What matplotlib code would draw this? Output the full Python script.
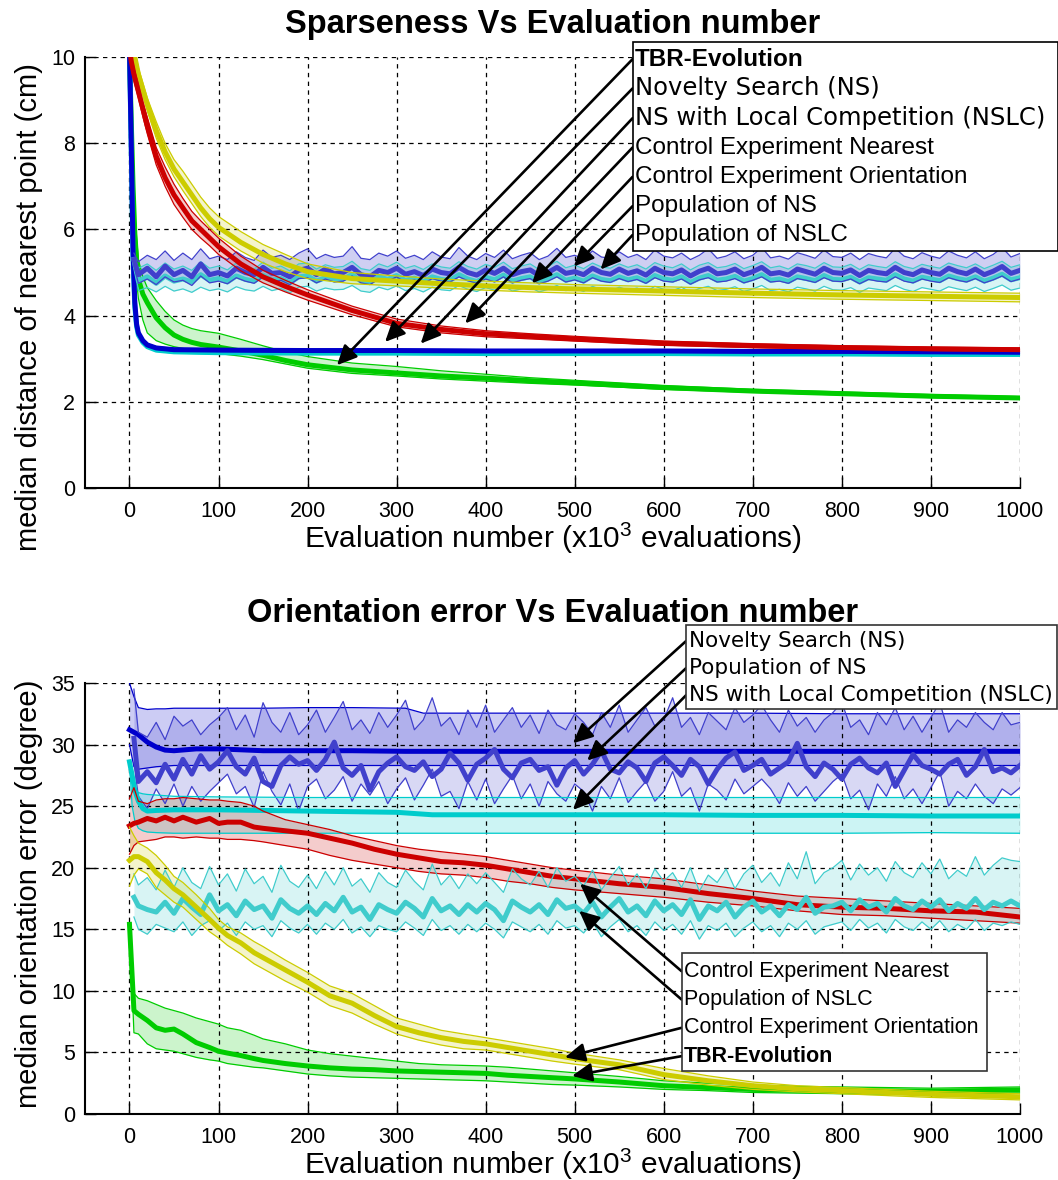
import matplotlib
matplotlib.use("Agg")
import matplotlib.pyplot as plt
from matplotlib.patches import Rectangle

plt.rcParams["font.family"] = "Liberation Sans"
plt.rcParams["mathtext.fontset"] = "custom"
plt.rcParams["mathtext.rm"] = "Liberation Sans"

GREEN = "#00cc00"
BLUE = "#0000cc"
CYAN = "#00cccc"
RED = "#cc0000"
YELLOW = "#cccc00"
POP_BLUE = "#4040cc"
POP_CYAN = "#40cccc"

x_ticks = [0, 100, 200, 300, 400, 500, 600, 700, 800, 900, 1000]

# ---------------- top plot data (sparseness, cm) ----------------
tx = [0, 2, 5, 10, 15, 20, 30, 40, 50, 60, 70, 80, 90, 100, 125, 150, 175, 200,
      250, 300, 350, 400, 450, 500, 600, 700, 800, 900, 1000]
red_t = [10.2, 9.9, 9.6, 9.2, 8.8, 8.4, 7.7, 7.2, 6.8, 6.5, 6.2, 6.0, 5.8, 5.6, 5.2, 4.9, 4.68, 4.48,
         4.12, 3.82, 3.68, 3.58, 3.52, 3.46, 3.36, 3.3, 3.26, 3.23, 3.21]
red_t_hi = [10.3, 10.05, 9.75, 9.35, 8.95, 8.6, 7.9, 7.45, 7.05, 6.72, 6.42, 6.2, 6.0, 5.8, 5.38, 5.05, 4.82, 4.6,
            4.22, 3.92, 3.76, 3.65, 3.58, 3.52, 3.41, 3.35, 3.3, 3.27, 3.25]
red_t_lo = [10.0, 9.75, 9.45, 9.05, 8.62, 8.22, 7.5, 7.0, 6.58, 6.28, 6.0, 5.8, 5.62, 5.42, 5.04, 4.76, 4.55, 4.36,
            4.02, 3.74, 3.6, 3.51, 3.46, 3.41, 3.31, 3.26, 3.22, 3.19, 3.17]
yel_t = [10.6, 10.4, 10.1, 9.6, 9.25, 8.9, 8.3, 7.8, 7.4, 7.1, 6.8, 6.5, 6.25, 6.05, 5.7, 5.42, 5.2, 5.02,
         4.86, 4.8, 4.74, 4.69, 4.65, 4.62, 4.57, 4.52, 4.48, 4.45, 4.42]
yel_t_hi = [10.7, 10.5, 10.25, 9.75, 9.4, 9.05, 8.5, 8.0, 7.62, 7.35, 7.05, 6.75, 6.5, 6.3, 5.95, 5.65, 5.42, 5.2,
            5.0, 4.92, 4.85, 4.8, 4.76, 4.72, 4.67, 4.62, 4.58, 4.55, 4.52]
yel_t_lo = [10.5, 10.3, 9.95, 9.45, 9.1, 8.75, 8.12, 7.62, 7.22, 6.9, 6.6, 6.3, 6.05, 5.85, 5.5, 5.22, 5.02, 4.86,
            4.74, 4.69, 4.64, 4.59, 4.55, 4.52, 4.47, 4.42, 4.38, 4.35, 4.32]

nsx = [0, 2, 4, 6, 8, 10, 15, 20, 30, 50, 100, 200, 300, 400, 500, 600, 700, 800, 900, 1000]
ns_t = [10.2, 8.0, 5.5, 4.3, 3.8, 3.6, 3.42, 3.32, 3.25, 3.21, 3.2, 3.19, 3.19, 3.18, 3.18, 3.18, 3.17, 3.17, 3.16, 3.15]
ns_t_hi = [10.2, 8.1, 5.6, 4.4, 3.85, 3.64, 3.45, 3.35, 3.28, 3.24, 3.23, 3.22, 3.22, 3.21, 3.21, 3.21, 3.2, 3.2, 3.19, 3.18]
ns_t_lo = [10.2, 7.9, 5.4, 4.2, 3.75, 3.56, 3.39, 3.29, 3.22, 3.18, 3.17, 3.16, 3.16, 3.15, 3.15, 3.15, 3.14, 3.14, 3.13, 3.12]
nslc_t = [10.2, 7.8, 5.3, 4.2, 3.75, 3.55, 3.38, 3.28, 3.2, 3.16, 3.14, 3.13, 3.13, 3.12, 3.12, 3.12, 3.11, 3.11, 3.1, 3.1]
nslc_t_hi = [10.2, 7.9, 5.4, 4.25, 3.78, 3.58, 3.41, 3.31, 3.23, 3.19, 3.17, 3.16, 3.16, 3.15, 3.15, 3.15, 3.14, 3.14, 3.13, 3.13]
nslc_t_lo = [10.2, 7.7, 5.2, 4.15, 3.72, 3.52, 3.35, 3.25, 3.17, 3.13, 3.11, 3.1, 3.1, 3.09, 3.09, 3.09, 3.08, 3.08, 3.07, 3.07]

gx = [0, 2, 4, 6, 8, 10, 15, 20, 30, 40, 50, 60, 70, 80, 90, 100, 125, 150, 175, 200,
      250, 300, 350, 400, 450, 500, 600, 700, 800, 900, 1000]
tbr_t = [10.1, 8.5, 7.0, 5.9, 5.3, 4.85, 4.5, 4.3, 3.95, 3.72, 3.55, 3.45, 3.38, 3.33, 3.3, 3.27, 3.18, 3.08, 2.96, 2.86,
         2.74, 2.67, 2.6, 2.55, 2.49, 2.44, 2.33, 2.25, 2.19, 2.13, 2.09]
tbr_t_hi = [10.2, 9.0, 7.6, 6.4, 5.8, 5.3, 4.9, 4.65, 4.35, 4.1, 3.9, 3.78, 3.7, 3.65, 3.62, 3.59, 3.45, 3.3, 3.16, 3.05,
            2.9, 2.82, 2.72, 2.64, 2.56, 2.5, 2.38, 2.29, 2.23, 2.17, 2.12]
tbr_t_lo = [10.0, 8.0, 6.3, 5.3, 4.8, 4.4, 3.9, 3.6, 3.42, 3.34, 3.28, 3.24, 3.2, 3.17, 3.14, 3.12, 3.06, 2.98, 2.88, 2.78,
            2.66, 2.6, 2.53, 2.48, 2.43, 2.39, 2.29, 2.22, 2.16, 2.1, 2.06]

# noisy population series are sampled every 10 evaluations (x10^3)
px = [5] + list(range(10, 1001, 10))
pns_t = [5.30, 4.95, 5.10, 4.90, 5.15, 4.95, 5.05, 4.90, 5.20, 4.95,
         5.00, 4.92, 5.10, 5.00, 4.95, 5.12, 4.98, 5.00, 4.90, 5.05,
         5.10, 4.95, 5.08, 4.97, 5.00, 5.12, 4.95, 4.90, 5.05, 5.00,
         5.10, 4.96, 5.02, 4.93, 5.08, 5.00, 4.97, 5.12, 5.00, 4.94,
         5.06, 4.98, 5.10, 4.95, 5.02, 5.06, 4.93, 5.00, 5.12, 4.98,
         5.02, 4.95, 5.10, 5.00, 4.96, 5.08, 4.98, 5.04, 4.94, 5.10,
         5.00, 4.97, 5.06, 4.92, 5.03, 5.10, 4.97, 5.00, 5.08, 4.95,
         5.02, 5.12, 4.97, 5.00, 4.94, 5.08, 5.02, 4.96, 5.10, 5.00,
         4.98, 5.06, 4.93, 5.05, 5.00, 4.97, 5.12, 5.00, 4.95, 5.06,
         5.00, 4.96, 5.10, 5.02, 4.97, 5.08, 4.95, 5.03, 5.14, 4.98,
         5.05]
pns_t_hi = [5.45, 5.25, 5.40, 5.30, 5.50, 5.28, 5.45, 5.30, 5.55, 5.32,
            5.38, 5.30, 5.48, 5.35, 5.28, 5.52, 5.35, 5.40, 5.30, 5.45,
            5.55, 5.32, 5.42, 5.35, 5.38, 5.60, 5.33, 5.30, 5.45, 5.38,
            5.50, 5.33, 5.40, 5.30, 5.48, 5.36, 5.32, 5.58, 5.38, 5.30,
            5.44, 5.35, 5.52, 5.32, 5.40, 5.46, 5.30, 5.38, 5.56, 5.35,
            5.40, 5.32, 5.50, 5.36, 5.33, 5.48, 5.35, 5.42, 5.30, 5.52,
            5.38, 5.34, 5.45, 5.30, 5.40, 5.55, 5.33, 5.38, 5.48, 5.32,
            5.40, 5.58, 5.34, 5.38, 5.31, 5.46, 5.40, 5.33, 5.52, 5.37,
            5.35, 5.45, 5.30, 5.44, 5.38, 5.34, 5.56, 5.38, 5.32, 5.46,
            5.38, 5.33, 5.50, 5.40, 5.34, 5.48, 5.32, 5.42, 5.58, 5.36,
            5.44]
pns_t_lo = [5.15, 4.75, 4.85, 4.72, 4.90, 4.78, 4.82, 4.70, 4.92, 4.76,
            4.80, 4.74, 4.88, 4.80, 4.75, 4.90, 4.78, 4.82, 4.72, 4.86,
            4.88, 4.76, 4.85, 4.78, 4.80, 4.92, 4.76, 4.72, 4.85, 4.80,
            4.90, 4.77, 4.83, 4.74, 4.86, 4.80, 4.78, 4.90, 4.81, 4.75,
            4.85, 4.78, 4.90, 4.76, 4.82, 4.86, 4.74, 4.80, 4.90, 4.78,
            4.83, 4.76, 4.88, 4.80, 4.77, 4.86, 4.79, 4.84, 4.75, 4.88,
            4.80, 4.78, 4.85, 4.73, 4.83, 4.88, 4.78, 4.80, 4.86, 4.76,
            4.82, 4.90, 4.78, 4.80, 4.75, 4.86, 4.82, 4.77, 4.88, 4.80,
            4.79, 4.85, 4.74, 4.84, 4.80, 4.78, 4.90, 4.80, 4.76, 4.85,
            4.80, 4.77, 4.88, 4.82, 4.78, 4.86, 4.76, 4.83, 4.92, 4.79,
            4.85]
pnslc_t = [5.30, 4.80, 4.90, 4.75, 4.92, 4.80, 4.85, 4.78, 4.95, 4.82,
           4.86, 4.78, 4.92, 4.84, 4.80, 4.94, 4.82, 4.86, 4.76, 4.90,
           4.92, 4.80, 4.88, 4.83, 4.85, 4.95, 4.80, 4.77, 4.90, 4.84,
           4.93, 4.81, 4.87, 4.78, 4.90, 4.84, 4.82, 4.95, 4.85, 4.79,
           4.89, 4.83, 4.94, 4.80, 4.86, 4.90, 4.78, 4.85, 4.95, 4.82,
           4.87, 4.80, 4.92, 4.84, 4.81, 4.90, 4.83, 4.88, 4.79, 4.93,
           4.85, 4.82, 4.90, 4.77, 4.87, 4.93, 4.82, 4.85, 4.91, 4.80,
           4.86, 4.95, 4.82, 4.85, 4.79, 4.90, 4.86, 4.81, 4.93, 4.84,
           4.83, 4.89, 4.78, 4.88, 4.85, 4.82, 4.95, 4.85, 4.80, 4.89,
           4.85, 4.81, 4.92, 4.86, 4.82, 4.90, 4.80, 4.87, 4.96, 4.83,
           4.88]
pnslc_t_hi = [5.35, 5.10, 5.20, 5.05, 5.22, 5.08, 5.15, 5.05, 5.25, 5.10,
              5.15, 5.06, 5.22, 5.12, 5.08, 5.24, 5.10, 5.15, 5.04, 5.20,
              5.22, 5.08, 5.18, 5.12, 5.14, 5.26, 5.09, 5.05, 5.20, 5.13,
              5.24, 5.10, 5.16, 5.07, 5.20, 5.13, 5.10, 5.25, 5.14, 5.08,
              5.19, 5.12, 5.24, 5.09, 5.15, 5.20, 5.07, 5.14, 5.26, 5.11,
              5.17, 5.09, 5.22, 5.13, 5.10, 5.20, 5.12, 5.18, 5.08, 5.23,
              5.15, 5.11, 5.20, 5.06, 5.17, 5.23, 5.11, 5.14, 5.21, 5.09,
              5.16, 5.25, 5.11, 5.15, 5.08, 5.20, 5.16, 5.10, 5.23, 5.13,
              5.12, 5.19, 5.07, 5.18, 5.14, 5.11, 5.25, 5.14, 5.09, 5.19,
              5.14, 5.10, 5.22, 5.16, 5.11, 5.20, 5.09, 5.17, 5.26, 5.12,
              5.18]
pnslc_t_lo = [5.20, 4.58, 4.65, 4.55, 4.68, 4.57, 4.62, 4.54, 4.66, 4.58,
              4.62, 4.55, 4.67, 4.60, 4.57, 4.68, 4.58, 4.63, 4.53, 4.66,
              4.68, 4.57, 4.64, 4.60, 4.61, 4.70, 4.57, 4.54, 4.66, 4.60,
              4.69, 4.58, 4.63, 4.55, 4.66, 4.60, 4.58, 4.70, 4.61, 4.56,
              4.65, 4.59, 4.69, 4.57, 4.62, 4.66, 4.55, 4.61, 4.70, 4.58,
              4.63, 4.56, 4.68, 4.60, 4.57, 4.66, 4.59, 4.64, 4.55, 4.68,
              4.61, 4.58, 4.66, 4.54, 4.63, 4.68, 4.58, 4.61, 4.67, 4.56,
              4.62, 4.70, 4.58, 4.61, 4.55, 4.66, 4.62, 4.57, 4.68, 4.60,
              4.59, 4.65, 4.54, 4.64, 4.61, 4.58, 4.70, 4.61, 4.56, 4.65,
              4.61, 4.57, 4.67, 4.62, 4.58, 4.66, 4.56, 4.63, 4.71, 4.59,
              4.64]

# ---------------- bottom plot data (orientation error, degree) ----------------
bnx = [0, 5, 10, 20, 30, 40, 50, 75, 100, 150, 200, 250, 310, 330, 400, 500, 600, 700, 800, 900, 1000]
ns_b = [31.2, 31.0, 30.8, 30.2, 29.8, 29.55, 29.5, 29.65, 29.65, 29.5, 29.5, 29.5, 29.45, 29.45,
        29.45, 29.45, 29.45, 29.45, 29.45, 29.45, 29.45]
ns_b_hi = [35.0, 33.9, 33.0, 32.85, 32.9, 32.9, 32.95, 32.95, 32.95, 32.95, 33.0, 33.0, 32.95, 32.55,
           32.55, 32.55, 32.55, 32.55, 32.5, 32.5, 32.5]
ns_b_lo = [30.0, 28.2, 28.0, 28.1, 28.2, 28.25, 28.3, 28.3, 28.3, 28.3, 28.3, 28.3, 28.3, 28.3,
           28.3, 28.3, 28.3, 28.3, 28.3, 28.3, 28.3]

bcx = [0, 3, 6, 10, 15, 20, 30, 50, 100, 200, 300, 340, 400, 500, 600, 700, 800, 900, 1000]
nslc_b = [28.6, 27.5, 26.3, 25.4, 24.8, 24.6, 24.65, 24.7, 24.7, 24.6, 24.5, 24.3, 24.3, 24.3, 24.3,
          24.25, 24.25, 24.2, 24.2]
nslc_b_hi = [28.6, 27.0, 26.4, 26.1, 26.0, 25.95, 25.9, 25.8, 25.75, 25.7, 25.7, 25.7, 25.7, 25.7, 25.7,
             25.7, 25.7, 25.7, 25.7]
nslc_b_lo = [28.6, 25.0, 23.8, 23.2, 23.0, 22.9, 22.85, 22.8, 22.8, 22.8, 22.8, 22.8, 22.8, 22.8, 22.8,
             22.8, 22.8, 22.85, 22.8]

bx = [0, 5, 10, 20, 30, 40, 50, 60, 75, 90, 100, 110, 125, 140, 150, 175, 200, 225, 250, 275,
      300, 325, 350, 375, 400, 425, 450, 475, 500, 550, 600, 650, 700, 750, 800, 850, 900, 950, 1000]
red_b = [23.4, 23.6, 23.7, 24.0, 23.8, 24.1, 23.8, 24.1, 23.7, 24.0, 23.6, 23.7, 23.7, 23.3, 23.2, 23.0, 22.8, 22.4, 22.0, 21.5,
         21.1, 20.8, 20.5, 20.4, 20.2, 19.9, 19.6, 19.3, 19.1, 18.7, 18.4, 17.9, 17.5, 17.0, 16.8, 16.7, 16.5, 16.4, 16.0]
red_b_hi = [25.6, 26.5, 25.4, 25.2, 25.5, 25.6, 25.6, 25.7, 25.6, 25.5, 25.5, 25.4, 25.3, 25.0, 24.6, 23.9, 23.5, 23.1, 22.6, 22.2,
            21.8, 21.5, 21.3, 21.1, 20.9, 20.6, 20.3, 20.0, 19.8, 19.4, 19.1, 18.6, 18.1, 17.7, 17.5, 17.3, 17.1, 16.9, 16.7]
red_b_lo = [21.1, 21.8, 22.1, 22.2, 22.3, 22.5, 22.5, 22.4, 22.5, 22.4, 22.4, 22.3, 22.3, 22.2, 22.1, 21.8, 21.5, 21.0, 20.6, 20.3,
            20.0, 19.7, 19.5, 19.4, 19.2, 18.9, 18.7, 18.4, 18.2, 17.9, 17.6, 17.2, 16.9, 16.5, 16.2, 16.1, 15.9, 15.7, 15.5]
yel_b = [20.6, 20.9, 20.9, 20.5, 19.6, 19.0, 18.3, 17.8, 16.8, 15.8, 15.1, 14.5, 13.9, 13.1, 12.7, 11.7, 10.7, 9.6, 9.0, 8.0,
         7.1, 6.6, 6.2, 5.9, 5.7, 5.4, 5.1, 4.8, 4.5, 4.0, 3.2, 2.7, 2.3, 2.05, 1.9, 1.75, 1.6, 1.5, 1.4]
yel_b_hi = [23.3, 22.6, 22.0, 21.6, 21.0, 20.2, 19.3, 18.8, 17.8, 16.7, 15.8, 15.2, 14.7, 14.0, 13.6, 12.5, 11.5, 10.4, 9.8, 8.8,
            7.8, 7.3, 6.8, 6.5, 6.2, 5.9, 5.6, 5.3, 4.95, 4.4, 3.7, 3.1, 2.6, 2.3, 2.15, 2.0, 1.85, 1.75, 1.65]
yel_b_lo = [18.5, 19.4, 19.9, 19.5, 18.4, 17.8, 17.2, 16.8, 15.8, 14.8, 14.3, 13.7, 13.0, 12.2, 11.8, 10.8, 9.9, 8.8, 8.2, 7.3,
            6.5, 6.0, 5.6, 5.3, 5.2, 4.9, 4.6, 4.3, 4.05, 3.6, 2.8, 2.35, 2.0, 1.8, 1.65, 1.5, 1.35, 1.25, 1.15]
tbr_b = [15.4, 8.4, 8.1, 7.6, 7.0, 6.8, 6.9, 6.5, 5.8, 5.4, 5.1, 4.95, 4.75, 4.5, 4.35, 4.1, 3.9, 3.75, 3.65, 3.6,
         3.5, 3.45, 3.4, 3.35, 3.3, 3.15, 3.05, 2.95, 2.85, 2.6, 2.3, 2.15, 2.0, 1.95, 1.9, 1.88, 1.85, 1.9, 1.95]
tbr_b_hi = [15.4, 9.8, 9.4, 9.2, 8.9, 8.6, 8.4, 8.2, 7.8, 7.5, 7.3, 7.0, 6.8, 6.4, 6.1, 5.7, 5.2, 4.9, 4.7, 4.5,
            4.3, 4.1, 4.0, 3.95, 3.9, 3.8, 3.65, 3.5, 3.35, 3.05, 2.7, 2.5, 2.35, 2.25, 2.2, 2.15, 2.1, 2.15, 2.2]
tbr_b_lo = [15.4, 6.6, 6.5, 5.7, 5.3, 5.2, 5.1, 4.9, 4.6, 4.4, 4.3, 4.1, 3.95, 3.8, 3.75, 3.5, 3.25, 3.1, 3.0, 2.95,
            2.9, 2.85, 2.8, 2.75, 2.7, 2.6, 2.5, 2.4, 2.35, 2.2, 2.0, 1.9, 1.75, 1.7, 1.65, 1.62, 1.6, 1.65, 1.7]

pns_b = [30.5, 27.0, 27.8, 26.9, 28.4, 27.2, 28.8, 27.6, 29.1, 28.0,
         28.6, 29.5, 28.2, 27.6, 28.9, 27.0, 26.6, 28.3, 29.0, 28.4,
         28.7, 27.9, 28.8, 30.2, 28.1, 27.5, 28.3, 26.3, 27.8, 28.5,
         29.0, 28.2, 27.9, 28.6, 27.4, 28.0, 29.3, 28.5, 27.1, 28.4,
         28.9, 29.6, 28.0, 27.3, 28.5, 28.8, 27.9, 28.2, 26.7, 28.1,
         28.7, 27.6, 28.4, 29.5, 28.0, 27.7, 28.6, 28.1, 27.0, 28.5,
         29.0, 28.3, 27.5, 28.8, 28.2, 26.8, 28.0, 28.9, 29.4, 27.9,
         28.3, 28.8, 27.6, 28.1, 28.6, 30.1, 28.2, 27.4, 28.5, 28.0,
         27.2, 28.4, 28.9, 28.1, 27.7, 28.5, 26.6, 27.9, 29.2, 28.3,
         28.0, 27.6, 28.4, 28.8, 27.5, 28.2, 29.6, 27.8, 28.1, 27.7,
         28.3]
pns_b_hi = [34.5, 31.0, 30.6, 31.8, 30.4, 32.3, 31.5, 32.0, 30.8, 31.6,
            32.2, 33.0, 31.2, 32.4, 30.6, 33.4, 31.8, 31.0, 32.6, 30.8,
            31.6, 32.8, 31.0, 32.2, 33.5, 31.2, 32.0, 30.9, 32.6, 31.4,
            32.4, 33.6, 31.2, 32.0, 33.8, 31.5, 32.2, 30.8, 32.8, 31.4,
            33.2, 31.0, 32.0, 33.0, 31.4, 32.4, 30.9, 32.8, 31.6, 31.2,
            32.5, 31.8, 30.8, 32.6, 31.4, 33.2, 31.0, 32.0, 33.0, 31.5,
            32.0, 33.8, 31.4, 32.2, 30.8, 32.6, 31.9, 31.2, 33.0, 31.8,
            32.4, 33.2, 32.0, 31.0, 32.8, 31.5, 32.2, 31.0, 32.0, 32.6,
            33.4, 31.4, 32.0, 30.8, 32.6, 31.6, 33.0, 31.2, 32.3, 31.0,
            32.2, 33.4, 31.0, 32.0, 31.4, 32.6, 31.8, 31.2, 32.6, 31.6,
            31.8]
pns_b_lo = [28.5, 25.8, 24.8, 26.4, 25.2, 26.8, 25.0, 26.6, 25.4, 26.2,
            26.9, 27.6, 26.0, 26.6, 24.9, 27.8, 26.2, 25.1, 26.8, 24.6,
            26.6, 27.2, 25.6, 26.3, 27.4, 25.4, 26.8, 25.9, 27.0, 25.2,
            26.4, 27.3, 25.5, 26.7, 28.0, 25.8, 26.2, 24.8, 27.0, 25.5,
            27.2, 25.2, 26.4, 27.5, 25.6, 26.8, 25.0, 27.0, 26.0, 25.4,
            26.8, 26.2, 24.6, 26.6, 25.6, 27.3, 25.3, 26.2, 27.0, 25.4,
            26.2, 27.8, 25.8, 26.5, 24.6, 26.8, 26.3, 25.5, 27.2, 26.0,
            26.6, 27.2, 26.4, 25.2, 26.9, 25.8, 26.6, 25.4, 26.2, 27.0,
            27.6, 25.6, 26.3, 24.7, 26.8, 25.8, 27.4, 25.6, 26.4, 25.2,
            26.5, 27.8, 25.0, 26.2, 25.6, 26.8, 25.8, 25.2, 26.4, 25.9,
            26.5]
pnslc_b = [17.6, 16.9, 16.6, 16.4, 17.2, 16.3, 17.5, 16.8, 16.2, 17.8,
           16.5, 17.0, 16.1, 17.3, 16.6, 16.9, 15.9, 17.4, 16.7, 16.3,
           16.9, 16.2, 17.1, 16.5, 17.6, 16.4, 16.8, 15.8, 17.0, 16.6,
           16.3, 17.2, 16.7, 16.0, 17.5, 16.5, 16.9, 16.2, 17.0, 16.4,
           17.1, 16.6, 15.7, 17.3, 16.8, 16.4, 17.0, 16.2, 17.4, 16.7,
           16.9, 16.3, 17.2, 16.0, 16.8, 17.5, 16.4, 16.9, 16.1, 17.3,
           16.5, 17.0, 16.2, 17.4, 15.8, 16.9, 16.5, 17.2, 16.0, 16.8,
           17.3, 16.4, 16.9, 16.1, 17.0, 16.6, 17.6, 16.3, 16.8, 16.9,
           17.2, 16.5, 17.4, 16.8, 17.1, 16.4, 17.5, 16.9, 16.6, 17.3,
           16.8, 17.4, 16.5, 17.1, 16.7, 17.5, 16.6, 17.2, 16.9, 17.3,
           16.9]
pnslc_b_hi = [19.5, 18.6, 19.2, 18.2, 19.8, 18.4, 20.0, 18.8, 18.3, 20.1,
              18.6, 19.5, 18.1, 19.9, 18.7, 19.3, 18.0, 20.2, 18.9, 18.4,
              19.4, 18.3, 19.7, 18.6, 20.0, 18.5, 19.1, 18.0, 19.6, 18.8,
              18.4, 19.8, 18.9, 18.2, 20.3, 18.6, 19.4, 18.3, 19.5, 18.7,
              19.6, 18.8, 18.0, 19.9, 19.1, 18.6, 19.7, 18.4, 20.0, 18.9,
              19.3, 18.5, 19.8, 18.2, 19.2, 20.1, 18.6, 19.5, 18.3, 19.9,
              18.9, 19.6, 18.4, 20.0, 18.1, 19.4, 18.8, 19.9, 18.3, 19.5,
              20.2, 18.8, 19.6, 18.5, 20.4, 19.1, 21.3, 18.7, 19.6, 20.0,
              20.6, 19.0, 20.3, 19.4, 20.0, 18.9, 20.5, 19.6, 19.2, 20.4,
              19.5, 20.7, 19.1, 19.8, 19.3, 20.9, 19.4, 20.2, 20.8, 20.6,
              20.5]
pnslc_b_lo = [16.0, 15.0, 14.6, 15.4, 15.1, 14.8, 15.6, 14.5, 15.3, 15.7,
              14.9, 15.5, 14.5, 15.6, 15.0, 15.3, 14.4, 15.7, 15.1, 14.7,
              15.4, 14.6, 15.5, 15.0, 15.8, 14.7, 15.2, 14.4, 15.3, 15.0,
              14.8, 15.6, 15.1, 14.5, 15.8, 14.9, 15.3, 14.6, 15.4, 14.8,
              15.5, 15.0, 14.3, 15.6, 15.2, 14.8, 15.4, 14.6, 15.7, 15.1,
              15.3, 14.7, 15.6, 14.4, 15.2, 15.8, 14.8, 15.3, 14.5, 15.6,
              14.9, 15.4, 14.6, 15.7, 14.2, 15.3, 14.9, 15.5, 14.4, 15.1,
              15.6, 14.8, 15.3, 14.4, 15.5, 15.0, 15.7, 14.6, 15.2, 15.4,
              15.6, 14.9, 15.8, 15.1, 15.5, 14.7, 15.8, 15.2, 14.9, 15.6,
              15.0, 15.7, 14.8, 15.4, 15.0, 15.8, 14.9, 15.5, 15.3, 15.6,
              15.4]

# ---------------- annotation texts ----------------
top_labels = ["TBR-Evolution", "Novelty Search (NS)", "NS with Local Competition (NSLC)",
              "Control Experiment Nearest", "Control Experiment Orientation",
              "Population of NS", "Population of NSLC"]
top_fonts = [("Liberation Sans", "bold"), ("DejaVu Sans", "normal"), ("DejaVu Sans", "normal"),
             ("Liberation Sans", "normal"), ("Liberation Sans", "normal"),
             ("Liberation Sans", "normal"), ("Liberation Sans", "normal")]
top_line_y = [9.95, 9.27, 8.58, 7.9, 7.22, 6.54, 5.87]
top_targets = [(233, 2.85), (287, 3.39), (327, 3.35), (377, 3.82), (452, 4.75), (499, 5.14), (529, 5.07)]

bot_labels_a = ["Novelty Search (NS)", "Population of NS", "NS with Local Competition (NSLC)"]
bot_fonts_a = [("DejaVu Sans", "normal"), ("DejaVu Sans", "normal"), ("DejaVu Sans", "normal")]
bot_line_y_a = [38.4, 36.2, 34.0]
bot_targets_a = [(498, 30.1), (514, 28.7), (498, 24.7)]

bot_labels_b = ["Control Experiment Nearest", "Population of NSLC",
                "Control Experiment Orientation", "TBR-Evolution"]
bot_fonts_b = [("Liberation Sans", "normal"), ("Liberation Sans", "normal"),
               ("Liberation Sans", "normal"), ("Liberation Sans", "bold")]
bot_line_y_b = [11.6, 9.3, 7.0, 4.7]
bot_targets_b = [(506, 18.7), (505, 16.5), (489, 4.6), (497, 3.1)]


def series(ax, x, med, lo, hi, color, alpha=0.2):
    ax.fill_between(x, lo, hi, color=color, alpha=alpha, lw=0)
    ax.plot(x, lo, color=color, lw=0.9)
    ax.plot(x, hi, color=color, lw=0.9)
    ax.plot(x, med, color=color, lw=3.6, solid_joinstyle="round")


def label_box(ax, rect, labels, fonts, line_y, targets, size, edge="k"):
    x0, y0, w, h = rect
    ax.add_patch(Rectangle((x0, y0), w, h, fc="white", ec=edge, lw=1.2,
                           clip_on=False, zorder=6))
    for txt, (fam, wt), y, tgt in zip(labels, fonts, line_y, targets):
        ax.text(x0 + 3, y, txt, family=fam, weight=wt, fontsize=size,
                va="center", ha="left", zorder=7, clip_on=False)
        ax.annotate("", xy=tgt, xytext=(x0, y), zorder=5, annotation_clip=False,
                    arrowprops=dict(arrowstyle="-|>,head_length=0.6,head_width=0.28",
                                    mutation_scale=20, color="k", lw=1.9,
                                    shrinkA=0, shrinkB=0))


def style(ax, ymax, yticks, title, ylabel, title_pad, ylabel_pos):
    ax.set_xlim(-50, 1000)
    ax.set_ylim(0, ymax)
    ax.set_xticks(x_ticks)
    ax.set_yticks(yticks)
    ax.grid(True, color="k", linestyle=(0, (3.5, 3.5)), linewidth=0.9)
    ax.spines["top"].set_visible(False)
    ax.spines["right"].set_visible(False)
    for s in ("left", "bottom"):
        ax.spines[s].set_linewidth(1.5)
    ax.tick_params(direction="in", length=8, width=1, labelsize=15.5)
    ax.tick_params(axis="x", pad=9)
    ax.tick_params(axis="y", pad=7)
    ax.set_title(title, fontsize=23.5, fontweight="bold", pad=title_pad)
    ax.set_xlabel("Evaluation number (x10$^{3}$ evaluations)", fontsize=21.5, labelpad=-1)
    ax.set_ylabel(ylabel, fontsize=21)
    ax.yaxis.set_label_coords(-0.045, ylabel_pos)


fig = plt.figure(figsize=(10.58, 11.8), dpi=100)
ax1 = fig.add_axes([0.0803, 0.5864, 0.8837, 0.3653])
ax2 = fig.add_axes([0.0803, 0.0559, 0.8837, 0.3653])

# top
series(ax1, gx, tbr_t, tbr_t_lo, tbr_t_hi, GREEN)
series(ax1, nsx, nslc_t, nslc_t_lo, nslc_t_hi, CYAN)
series(ax1, nsx, ns_t, ns_t_lo, ns_t_hi, BLUE)
series(ax1, px, pnslc_t, pnslc_t_lo, pnslc_t_hi, POP_CYAN)
series(ax1, px, pns_t, pns_t_lo, pns_t_hi, POP_BLUE, alpha=0.25)
series(ax1, tx, yel_t, yel_t_lo, yel_t_hi, YELLOW)
series(ax1, tx, red_t, red_t_lo, red_t_hi, RED)
style(ax1, 10, [0, 2, 4, 6, 8, 10], "Sparseness Vs Evaluation number",
      "median distance of nearest point (cm)", 17, 0.42)
label_box(ax1, (565, 5.5, 478, 4.85), top_labels, top_fonts, top_line_y, top_targets, 17.5)

# bottom
series(ax2, bnx, ns_b, ns_b_lo, ns_b_hi, BLUE)
series(ax2, px, pns_b, pns_b_lo, pns_b_hi, POP_BLUE, alpha=0.2)
series(ax2, bcx, nslc_b, nslc_b_lo, nslc_b_hi, CYAN)
series(ax2, bx, red_b, red_b_lo, red_b_hi, RED)
series(ax2, px, pnslc_b, pnslc_b_lo, pnslc_b_hi, POP_CYAN)
series(ax2, bx, tbr_b, tbr_b_lo, tbr_b_hi, GREEN)
series(ax2, bx, yel_b, yel_b_lo, yel_b_hi, YELLOW)
style(ax2, 35, [0, 5, 10, 15, 20, 25, 30, 35], "Orientation error Vs Evaluation number",
      "median orientation error (degree)", 44, 0.51)
label_box(ax2, (625, 32.9, 417, 6.8), bot_labels_a, bot_fonts_a, bot_line_y_a, bot_targets_a, 15.5, edge="#333333")
label_box(ax2, (620, 3.5, 343, 9.6), bot_labels_b, bot_fonts_b, bot_line_y_b, bot_targets_b, 15.5, edge="#333333")

fig.savefig("out.png", dpi=100)
